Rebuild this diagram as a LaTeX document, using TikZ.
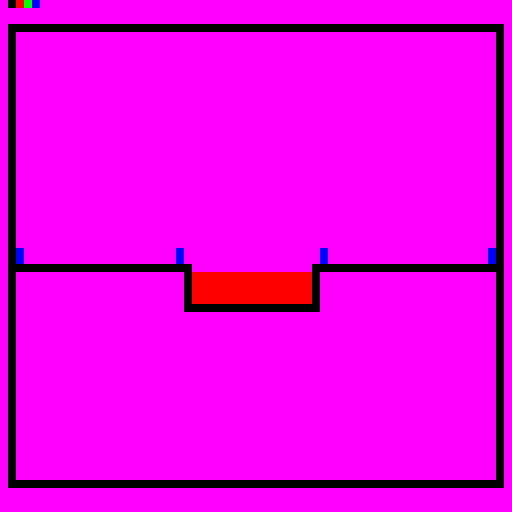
\documentclass[tikz,border=0pt]{standalone}
\usepackage{tikz}
\definecolor{bgmagenta}{RGB}{255,0,255}
\definecolor{pureRed}{RGB}{255,0,0}
\definecolor{pureGreen}{RGB}{0,255,0}
\definecolor{pureBlue}{RGB}{0,0,255}
\tikzstyle{wall} = [draw=black, line width=8pt, miter limit=10]
\tikzstyle{marker} = [fill=pureBlue]
\tikzstyle{swatch} = [minimum size=8pt, inner sep=0pt, outer sep=0pt, anchor=north west]

\begin{document}
\begin{tikzpicture}[x=1pt, y=-1pt]

% Background
\fill[bgmagenta] (0,0) rectangle (512,512);
\useasboundingbox (0,0) rectangle (512,512);

% Colour swatches
\node (sw_black) [swatch, fill=black] at (8,0) {};
\node (sw_red) [swatch, fill=pureRed] at (16,0) {};
\node (sw_green) [swatch, fill=pureGreen] at (24,0) {};
\node (sw_blue) [swatch, fill=pureBlue] at (32,0) {};

% Outer frame
\draw [wall] (12,28) rectangle (500,484);

% Red pocket
\fill[pureRed] (192,272) rectangle (312,304);

% Floor with pocket
\draw [wall] (16,268) -- (188,268) -- (188,308) -- (316,308) -- (316,268) -- (496,268);

% Blue markers
\fill[marker] (16,248) rectangle (24,264);
\fill[marker] (176,248) rectangle (184,264);
\fill[marker] (320,248) rectangle (328,264);
\fill[marker] (488,248) rectangle (496,264);

\end{tikzpicture}
\end{document}
